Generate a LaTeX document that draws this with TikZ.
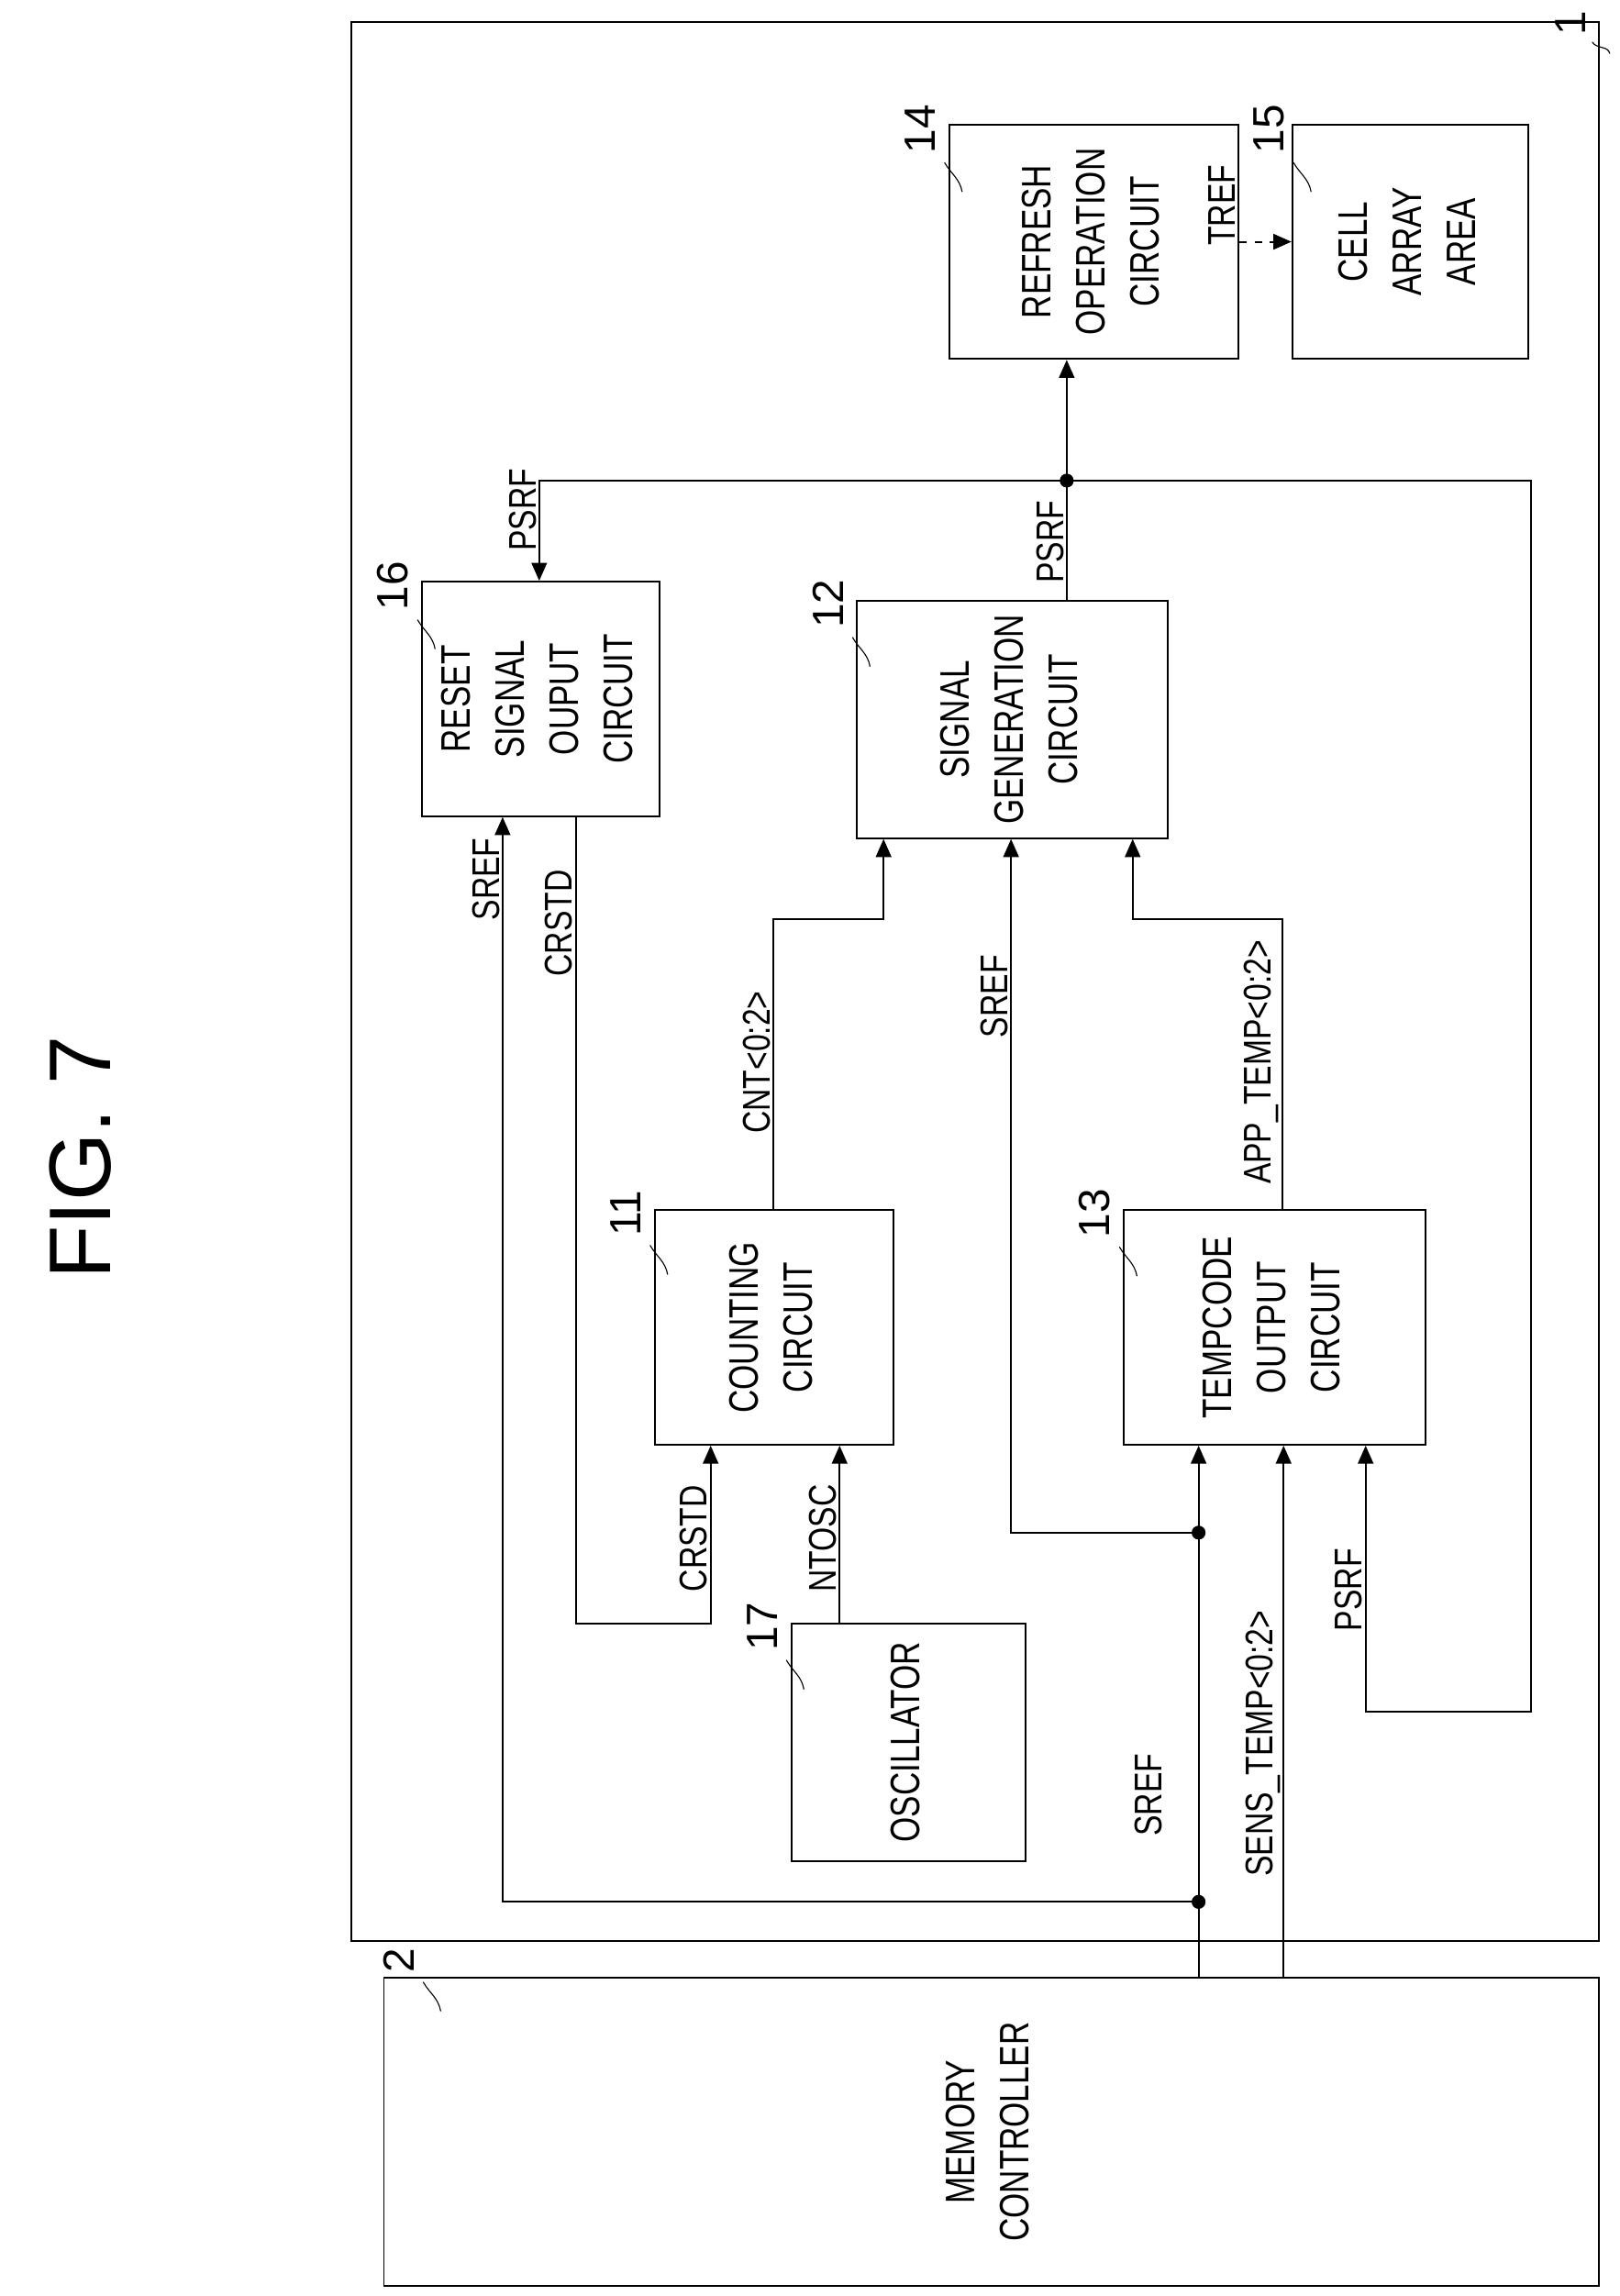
\documentclass[tikz,border=0pt]{standalone}
\usepackage{fontspec}
\setmainfont{Liberation Sans}
\usetikzlibrary{positioning, arrows.meta}
\newcommand{\vtxt}[1]{\rotatebox{90}{\scalebox{0.78}[1]{\begin{tabular}{@{}c@{}}#1\end{tabular}}}}
\newcommand{\narrow}[1]{\scalebox{0.8}[1]{#1}}
\begin{document}
\begin{tikzpicture}[
        x=0.02cm, y=-0.02cm,
        every node/.style={font=\fontsize{16}{21}\selectfont},
        block/.style={rectangle, draw=black, line width=0.7pt, inner sep=0pt},
        wire/.style={line width=0.7pt},
        arrow/.style={line width=0.7pt, -{Triangle[length=7pt, width=6pt]}},
        sig/.style={rotate=90, inner sep=1pt, font=\fontsize{15}{16}\selectfont},
        ref/.style={rotate=90, inner sep=0pt, font=\fontsize{17}{18}\selectfont},
        dot/.style={circle, fill=black, draw=black, inner sep=0pt, minimum size=5pt}
    ]
    \useasboundingbox (0,0) rectangle (1105,1567);

    % Title
    \node (title) [rotate=90, font=\fontsize{34}{36}\selectfont] at (55,790) {FIG.\ 7};

    % Outer boxes
    \node (chip) [block, minimum width=851*0.02cm, minimum height=1310*0.02cm] at (665.5,670) {};
    \node (ctrl) [block, minimum width=829*0.02cm, minimum height=210*0.02cm] at (676.5,1455) {\vtxt{MEMORY\\CONTROLLER}};

    % Circuit blocks
    \node (refresh) [block, minimum width=197*0.02cm, minimum height=160*0.02cm] at (746.5,165) {\vtxt{REFRESH\\OPERATION\\CIRCUIT}};
    \node (cell)    [block, minimum width=161*0.02cm, minimum height=160*0.02cm] at (962.5,165) {\vtxt{CELL\\ARRAY\\AREA}};
    \node (reset)   [block, minimum width=162*0.02cm, minimum height=160*0.02cm] at (369,477) {\vtxt{RESET\\SIGNAL\\OUPUT\\CIRCUIT}};
    \node (siggen)  [block, minimum width=212*0.02cm, minimum height=162*0.02cm] at (691,491) {\vtxt{SIGNAL\\GENERATION\\CIRCUIT}};
    \node (count)   [block, minimum width=163*0.02cm, minimum height=160*0.02cm] at (528.5,906) {\vtxt{COUNTING\\CIRCUIT}};
    \node (tcode)   [block, minimum width=206*0.02cm, minimum height=160*0.02cm] at (870,906) {\vtxt{TEMPCODE\\OUTPUT\\CIRCUIT}};
    \node (osc)     [block, minimum width=160*0.02cm, minimum height=162*0.02cm] at (620,1189) {\vtxt{OSCILLATOR}};

    % Reference numerals
    \node (n1)  [ref] at (1072,16) {1};
    \node (n2)  [ref] at (272,1338) {2};
    \node (n14) [ref] at (628,88) {14};
    \node (n15) [ref] at (866,88) {15};
    \node (n16) [ref] at (268,400) {16};
    \node (n12) [ref] at (565,412) {12};
    \node (n11) [ref] at (427,828) {11};
    \node (n13) [ref] at (747,828) {13};
    \node (n17) [ref] at (520,1110) {17};
    \foreach \n in {n2,n14,n15,n16,n12,n11,n13,n17}
        \draw [line width=0.4pt] (\n.south west) ++(6,6) to[out=-60,in=100] ++(12,20);
    \draw [line width=0.4pt] (n1.south west) ++(4,4) to[out=-60,in=100] ++(12,8);

    % Junctions
    \coordinate (jp) at (728,328);
    \coordinate (js1) at (818,1298);
    \coordinate (js2) at (818,1046);
    \node [dot] at (jp) {};
    \node [dot] at (js1) {};
    \node [dot] at (js2) {};

    % PSRF
    \draw [wire] (siggen.north -| jp) -- (jp);
    \draw [arrow] (jp) -- (refresh.south -| jp);
    \draw [arrow] (jp) -- (368,328) -- (reset.north -| 368,0);
    \draw [arrow] (jp) -- (1045,328) -- (1045,1168) -- (932,1168) -- (tcode.south -| 932,0);
    \draw [arrow, dashed] (refresh.east |- 0,165) -- (cell.west |- 0,165);
    \node [sig, anchor=south] at (728,370) {\narrow{PSRF}};
    \node [sig, anchor=south] at (368,348) {\narrow{PSRF}};
    \node [sig, anchor=south] at (932,1085) {\narrow{PSRF}};
    \node [sig, anchor=south] at (845,140) {\narrow{TREF}};

    % SREF
    \draw [wire] (ctrl.north -| js1) -- (js1);
    \draw [arrow] (js1) -- (343,1298) -- (reset.south -| 343,0);
    \draw [wire] (js1) -- (js2);
    \draw [arrow] (js2) -- (tcode.south -| js2);
    \draw [arrow] (js2) -- (690,1046) -- (siggen.south -| 690,0);
    \node [sig, anchor=south] at (343,600) {\narrow{SREF}};
    \node [sig, anchor=south] at (690,680) {\narrow{SREF}};
    \node [sig, anchor=south] at (795,1225) {\narrow{SREF}};

    % SENS_TEMP
    \draw [arrow] (ctrl.north -| 876,0) -- (tcode.south -| 876,0);
    \node [sig, anchor=south] at (876,1190) {\narrow{SENS\_TEMP<0:2>}};

    % CRSTD
    \draw [arrow] (reset.south -| 393,0) -- (393,1108) -- (485,1108) -- (count.south -| 485,0);
    \node [sig, anchor=south] at (393,630) {\narrow{CRSTD}};
    \node [sig, anchor=south] at (485,1050) {\narrow{CRSTD}};

    % NTOSC
    \draw [arrow] (osc.north -| 573,0) -- (count.south -| 573,0);
    \node [sig, anchor=south] at (573,1050) {\narrow{NTOSC}};

    % CNT and APP_TEMP
    \draw [arrow] (count.north -| 528,0) -- (528,627) -- (603,627) -- (siggen.south -| 603,0);
    \node [sig, anchor=south] at (528,725) {\narrow{CNT<0:2>}};
    \draw [arrow] (tcode.north -| 875,0) -- (875,627) -- (773,627) -- (siggen.south -| 773,0);
    \node [sig, anchor=south] at (875,725) {\narrow{APP\_TEMP<0:2>}};

\end{tikzpicture}
\end{document}
